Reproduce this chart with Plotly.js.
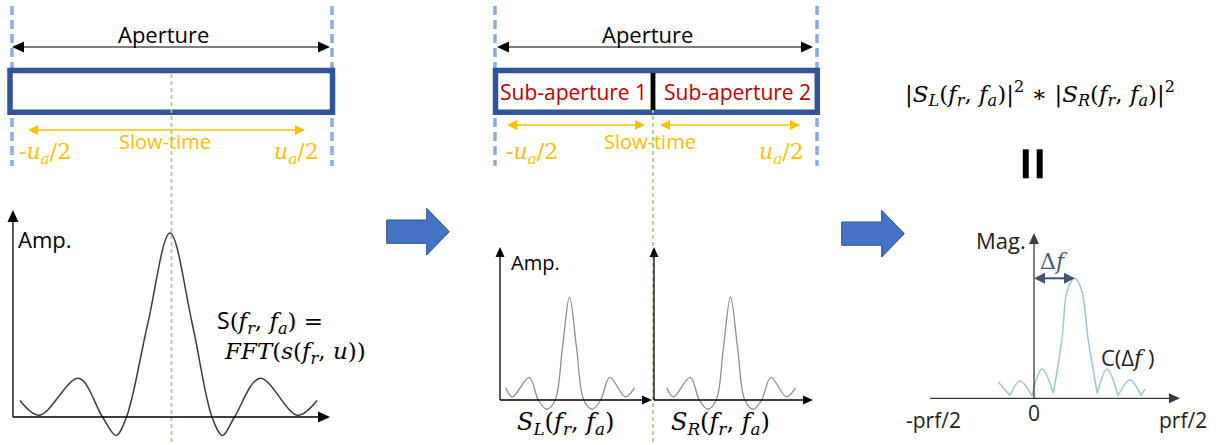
<!DOCTYPE html>
<html>
<head>
<meta charset="utf-8">
<script src="https://cdn.plot.ly/plotly-3.0.1.min.js"></script>
<style>
  html, body { margin: 0; padding: 0; background: #fff; }
  #chart { width: 1223px; height: 445px; }
</style>
</head>
<body>
<div id="chart"></div>
<script>
const W = 1223, H = 445;

// Full-aperture azimuth spectrum |S(fr, fa)| (normalized frequency, normalized amplitude)
const fullFreq = [-1.00, -0.87, -0.61, -0.45, -0.36, -0.29, -0.15, 0.00, 0.15, 0.28, 0.35, 0.43, 0.60, 0.85, 0.98];
const fullAmp  = [ 0.09,  0.01,  0.21,  0.00, -0.10,  0.00,  0.50, 1.00, 0.50, 0.00, -0.10, 0.00, 0.21, 0.01, 0.09];

// Sub-aperture spectra S_L and S_R (same shape)
const subFreq = [-0.98, -0.88, -0.62, -0.48, -0.35, -0.22, -0.11, 0.00, 0.11, 0.22, 0.35, 0.48, 0.62, 0.86, 1.00];
const subAmp  = [ 0.12,  0.03,  0.22,  0.00, -0.09,  0.00,  0.50, 1.00, 0.50, 0.00, -0.09, 0.00, 0.22, 0.03, 0.12];

// Cross-correlation magnitude C(Δf); null breaks the curve at each zero so lobes meet in cusps
const corrFreq = [-0.238, -0.160, null, -0.160, -0.093, -0.013, null, -0.013, 0.053, 0.129, null,
                  0.129, 0.187, 0.222, 0.273, 0.318, 0.360, 0.422, null, 0.422, 0.487, 0.560, null,
                  0.560, 0.640, 0.713, null, 0.713, 0.740];
const corrMag  = [0.136, 0.023, null, 0.023, 0.144, 0.019, null, 0.019, 0.244, 0.042, null,
                  0.042, 0.50, 0.90, 1.00, 0.90, 0.50, 0.042, null, 0.042, 0.244, 0.019, null,
                  0.019, 0.152, 0.023, null, 0.023, 0.078];
const corrPeak = 0.273;   // Δf offset of the correlation peak

// Frequency tick labels of the correlation panel
const corrTickText = ['-prf/2', '0', 'prf/2'];
const corrTickPos  = [-0.673, 0.0, 0.995];

// Pixel placement of each plot panel: data origin (ox, oy) and pixels per unit (sx, sy)
const panels = {
  full: { ox: 170,    oy: 417,   sx: 150, sy: 184, xr: [-1.10, 1.12], yr: [-0.15, 1.15] },
  subL: { ox: 569.5,  oy: 400,   sx: 65,  sy: 103, xr: [-1.15, 1.35], yr: [-0.30, 1.55] },
  subR: { ox: 730.5,  oy: 400,   sx: 65,  sy: 103, xr: [-1.25, 1.35], yr: [-0.30, 1.55] },
  corr: { ox: 1034,   oy: 398.3, sx: 150, sy: 120, xr: [-0.80, 1.10], yr: [-0.30, 1.50] }
};
const toPx = (p, x, y) => [p.ox + p.sx * x, p.oy - p.sy * y];

// Hidden axis pair whose data origin sits at the panel's pixel origin
function placeAxes(p, xId, yId) {
  const x0 = p.ox + p.sx * p.xr[0], x1 = p.ox + p.sx * p.xr[1];
  const yb = p.oy - p.sy * p.yr[0], yt = p.oy - p.sy * p.yr[1];
  return [
    { domain: [x0 / W, x1 / W], range: p.xr, visible: false, anchor: yId, fixedrange: true },
    { domain: [1 - yb / H, 1 - yt / H], range: p.yr, visible: false, anchor: xId, fixedrange: true }
  ];
}
const [xa2, ya2] = placeAxes(panels.full, 'x2', 'y2');
const [xa3, ya3] = placeAxes(panels.subL, 'x3', 'y3');
const [xa4, ya4] = placeAxes(panels.subR, 'x4', 'y4');
const [xa5, ya5] = placeAxes(panels.corr, 'x5', 'y5');

const traces = [
  { x: fullFreq, y: fullAmp, xaxis: 'x2', yaxis: 'y2', mode: 'lines',
    line: { color: '#3c3c3c', width: 1.5, shape: 'spline', smoothing: 1 }, hoverinfo: 'skip' },
  { x: subFreq, y: subAmp, xaxis: 'x3', yaxis: 'y3', mode: 'lines',
    line: { color: '#8e8e8e', width: 1.3, shape: 'spline', smoothing: 1 }, hoverinfo: 'skip' },
  { x: subFreq, y: subAmp, xaxis: 'x4', yaxis: 'y4', mode: 'lines',
    line: { color: '#8e8e8e', width: 1.3, shape: 'spline', smoothing: 1 }, hoverinfo: 'skip' },
  { x: corrFreq, y: corrMag, xaxis: 'x5', yaxis: 'y5', mode: 'lines', connectgaps: false,
    line: { color: '#9cc6d8', width: 1.5, shape: 'spline', smoothing: 1 }, hoverinfo: 'skip' }
];

// ---- fonts and colours
const SANS = '"Open Sans", Lato, sans-serif';
const MATH = '"DejaVu Serif", "Liberation Serif", serif';
const ORANGE = '#ffc000', RED = '#c00000', NAVY = '#2f5597', DASHBLUE = '#8faadc', GREEN = '#a9d18e';

function label(x, y, text, opts) {
  return Object.assign({ xref: 'x', yref: 'y', x, y, text, showarrow: false,
    xanchor: 'center', yanchor: 'middle', font: { family: SANS, size: 20, color: '#000' } }, opts || {});
}

const uLeft  = '-<i>u</i><sub><i>a</i></sub>/2';
const uRight = '<i>u</i><sub><i>a</i></sub>/2';
const fra = '(<i>f</i><sub><i>r</i></sub>, <i>f</i><sub><i>a</i></sub>)';

const annotations = [
  // full aperture panel
  label(163, 34, 'Aperture', { font: { family: SANS, size: 22, color: '#000' } }),
  label(165, 141, 'Slow-time', { font: { family: SANS, size: 20, color: ORANGE } }),
  label(17, 153, uLeft,  { xanchor: 'left',  font: { family: MATH, size: 22, color: ORANGE } }),
  label(321, 153, uRight, { xanchor: 'right', font: { family: MATH, size: 22, color: ORANGE } }),
  label(16, 239, 'Amp.', { xanchor: 'left', font: { family: SANS, size: 22, color: '#000' } }),
  label(215, 321, '<span style="font-family:\'Open Sans\'">S</span>' + fra + ' =',
        { xanchor: 'left', font: { family: MATH, size: 23, color: '#000' } }),
  label(222, 353, '<i>FFT</i>(<i>s</i>(<i>f</i><sub><i>r</i></sub>, <i>u</i>))',
        { xanchor: 'left', font: { family: MATH, size: 23, color: '#000' } }),

  // sub-aperture panel
  label(647, 34, 'Aperture', { font: { family: SANS, size: 22, color: '#000' } }),
  label(573, 92, 'Sub-aperture 1', { font: { family: SANS, size: 21, color: RED } }),
  label(737, 92, 'Sub-aperture 2', { font: { family: SANS, size: 21, color: RED } }),
  label(650, 141, 'Slow-time', { font: { family: SANS, size: 20, color: ORANGE } }),
  label(504, 153, uLeft,  { xanchor: 'left',  font: { family: MATH, size: 22, color: ORANGE } }),
  label(806, 153, uRight, { xanchor: 'right', font: { family: MATH, size: 22, color: ORANGE } }),
  label(509, 262, 'Amp.', { xanchor: 'left', font: { family: SANS, size: 20, color: '#000' } }),
  label(565, 423, '<i>S</i><sub><i>L</i></sub>' + fra, { font: { family: MATH, size: 24, color: '#000' } }),
  label(720, 423, '<i>S</i><sub><i>R</i></sub>' + fra, { font: { family: MATH, size: 24, color: '#000' } }),

  // correlation panel
  label(1040, 93, '|<i>S</i><sub><i>L</i></sub>' + fra + '|<sup>2</sup> ∗ |<i>S</i><sub><i>R</i></sub>' + fra + '|<sup>2</sup>',
        { font: { family: MATH, size: 23, color: '#000' } }),
  label(1028, 240, 'Mag.', { xanchor: 'right', font: { family: SANS, size: 22, color: '#222' } }),
  { xref: 'x5', yref: 'y5', x: corrPeak / 2, y: 1.0, yshift: 17, text: 'Δ<i>f</i>', showarrow: false,
    font: { family: MATH, size: 22, color: '#4a5a72' } },
  label(1099, 357, 'C(Δ<span style="font-family:\'DejaVu Serif\'"><i>f</i></span> )',
        { xanchor: 'left', font: { family: SANS, size: 22, color: '#222' } })
];

corrTickText.forEach((t, i) => {
  annotations.push({ xref: 'x5', yref: 'y5', x: corrTickPos[i], y: 0, yshift: t === '0' ? -15 : -22,
    text: t, showarrow: false, xanchor: 'center', yanchor: 'middle',
    font: { family: SANS, size: 21, color: '#222' } });
});

// ---- arrows drawn as shapes in pixel space (line + filled triangular heads)
function arrowShapes(a, b, color, width, len, wid, both) {
  const dx = b[0] - a[0], dy = b[1] - a[1], L = Math.hypot(dx, dy), ux = dx / L, uy = dy / L;
  const head = (tip, vx, vy) => {
    const bx = tip[0] - vx * len, by = tip[1] - vy * len, nx = -vy * wid / 2, ny = vx * wid / 2;
    return { type: 'path', xref: 'x', yref: 'y', layer: 'above',
      path: `M${tip[0]},${tip[1]} L${bx + nx},${by + ny} L${bx - nx},${by - ny} Z`,
      fillcolor: color, line: { width: 0 } };
  };
  const s = both ? [a[0] + ux * len * 0.7, a[1] + uy * len * 0.7] : a;
  const e = [b[0] - ux * len * 0.7, b[1] - uy * len * 0.7];
  const out = [{ type: 'line', xref: 'x', yref: 'y', layer: 'above', x0: s[0], y0: s[1], x1: e[0], y1: e[1],
    line: { color, width } }, head(b, ux, uy)];
  if (both) out.push(head(a, -ux, -uy));
  return out;
}

function blockArrow(dx, dy) {
  const p = [[386.7, 220], [426.7, 220], [426.7, 208.3], [449.3, 231.7], [426.7, 255], [426.7, 243.3], [386.7, 243.3]];
  return { type: 'path', xref: 'x', yref: 'y', layer: 'above',
    path: 'M' + p.map(q => (q[0] + dx) + ',' + (q[1] + dy)).join(' L') + ' Z',
    fillcolor: '#4472c4', line: { color: '#2f528f', width: 1 } };
}
function vdash(x, y0, y1, color, width, dash) {
  return { type: 'line', xref: 'x', yref: 'y', x0: x, x1: x, y0, y1, layer: 'below', line: { color, width, dash } };
}

const shapes = [
  vdash(12, 6, 166, DASHBLUE, 3.5, '9px,5px'),
  vdash(332, 6, 166, DASHBLUE, 3.5, '9px,5px'),
  vdash(495, 6, 166, DASHBLUE, 3.5, '9px,5px'),
  vdash(817, 6, 166, DASHBLUE, 3.5, '9px,5px'),
  { type: 'rect', xref: 'x', yref: 'y', x0: 10, x1: 332.5, y0: 70.5, y1: 112.3,
    line: { color: NAVY, width: 5.5 }, fillcolor: '#fff', layer: 'below' },
  { type: 'rect', xref: 'x', yref: 'y', x0: 495.5, x1: 817.3, y0: 70.5, y1: 112.3,
    line: { color: NAVY, width: 5.5 }, fillcolor: '#fff', layer: 'below' },
  { type: 'rect', xref: 'x', yref: 'y', x0: 650.6, x1: 655.4, y0: 73, y1: 110,
    line: { width: 0 }, fillcolor: '#000', layer: 'above' },
  vdash(171.5, 74, 445, GREEN, 1.8, '4px,3px'),
  vdash(653, 74, 445, GREEN, 1.8, '4px,3px'),

  // aperture and slow-time extents
  ...arrowShapes([12, 47], [330, 47], '#000', 1.2, 12, 11, true),
  ...arrowShapes([497, 47], [813, 47], '#000', 1.2, 12, 11, true),
  ...arrowShapes([28, 130], [305, 130], ORANGE, 1.6, 10, 10, true),
  ...arrowShapes([507, 125], [645, 125], ORANGE, 1.6, 10, 10, true),
  ...arrowShapes([660, 125], [800, 125], ORANGE, 1.6, 10, 10, true),

  // panel axes
  ...arrowShapes(toPx(panels.full, -1.047, 0), toPx(panels.full, -1.047, 1.125), '#000', 1.3, 12, 11, false),
  ...arrowShapes(toPx(panels.full, -1.047, 0), toPx(panels.full, 1.067, 0), '#000', 1.3, 12, 11, false),
  ...arrowShapes(toPx(panels.subL, -1.069, 0), toPx(panels.subL, -1.069, 1.485), '#000', 1.3, 10, 9, false),
  ...arrowShapes(toPx(panels.subL, -1.069, 0), toPx(panels.subL, 1.269, 0), '#000', 1.3, 10, 9, false),
  ...arrowShapes(toPx(panels.subR, -1.177, 0), toPx(panels.subR, -1.177, 1.485), '#000', 1.3, 10, 9, false),
  ...arrowShapes(toPx(panels.subR, -1.177, 0), toPx(panels.subR, 1.269, 0), '#000', 1.3, 10, 9, false),
  ...arrowShapes(toPx(panels.corr, 0, 0), toPx(panels.corr, 0, 1.378), '#3a3a3a', 1.3, 11, 10, false),
  ...arrowShapes(toPx(panels.corr, -0.693, 0), toPx(panels.corr, 0.973, 0), '#3a3a3a', 1.3, 11, 10, false),
  // Δf: from zero frequency to the correlation peak
  ...arrowShapes(toPx(panels.corr, 0, 1.0), toPx(panels.corr, corrPeak, 1.0), '#44546a', 2, 11, 11, true),

  blockArrow(0, 0),
  blockArrow(455, 2),
  // "||" sign between the product and the correlation
  { type: 'rect', xref: 'x', yref: 'y', x0: 1022.8, x1: 1028.8, y0: 149.3, y1: 178.3, line: { width: 0 }, fillcolor: '#000' },
  { type: 'rect', xref: 'x', yref: 'y', x0: 1036.7, x1: 1042.7, y0: 149.3, y1: 178.3, line: { width: 0 }, fillcolor: '#000' }
];

const layout = {
  width: W, height: H,
  margin: { l: 0, r: 0, t: 0, b: 0, pad: 0 },
  paper_bgcolor: '#fff', plot_bgcolor: 'rgba(0,0,0,0)',
  showlegend: false,
  xaxis: { range: [0, W], domain: [0, 1], visible: false, fixedrange: true },
  yaxis: { range: [H, 0], domain: [0, 1], visible: false, fixedrange: true },
  xaxis2: xa2, yaxis2: ya2,
  xaxis3: xa3, yaxis3: ya3,
  xaxis4: xa4, yaxis4: ya4,
  xaxis5: xa5, yaxis5: ya5,
  shapes, annotations
};

Plotly.newPlot('chart', traces, layout, { staticPlot: true, displayModeBar: false });
</script>
</body>
</html>
